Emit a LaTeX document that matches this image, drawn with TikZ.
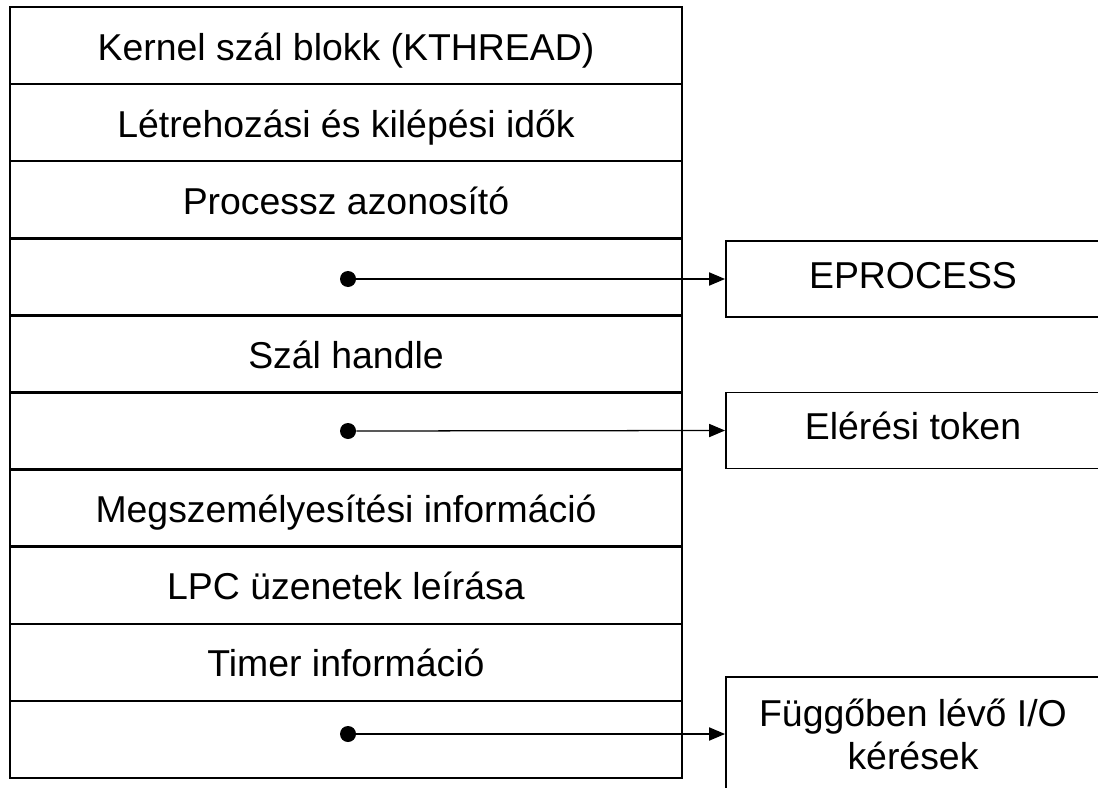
\documentclass[tikz,border=0pt]{standalone}
\usepackage{fontspec}
\setmainfont{Liberation Sans}
\usetikzlibrary{
    positioning,
    arrows.meta
}
\tikzset{
    >={Triangle[length=0.4cm,width=0.33cm]},
    mezo/.style={
        draw,
        line width=1.8pt,
        minimum width=16.8cm,
        minimum height=1.9275cm,
        inner sep=0pt,
        text height=20.6pt,
        text depth=0pt
    },
    cel/.style={
        draw,
        line width=1.3pt,
        minimum width=9.35cm,
        minimum height=1.9cm,
        inner sep=0pt,
        align=center
    },
    pont/.style={
        circle,
        fill,
        inner sep=0pt,
        minimum size=0.4cm
    }
}

\begin{document}
\begin{tikzpicture}[
    x=0.025cm,
    y=-0.025cm,
    font=\fontsize{26.6}{30.6}\selectfont
]
    \useasboundingbox (0,0) rectangle (1098,788);

    % Szál blokk mezői
    \node[mezo] (kt)  at (346,45.55)  {Kernel szál blokk (KTHREAD)};
    \node[mezo] (ido) at (346,122.65) {Létrehozási és kilépési idők};
    \node[mezo] (pid) at (346,199.75) {Processz azonosító};
    \node[mezo] (ep)  at (346,276.85) {};
    \node[mezo] (hnd) at (346,353.95) {Szál handle};
    \node[mezo] (tok) at (346,431.05) {};
    \node[mezo] (imp) at (346,508.15) {Megszemélyesítési információ};
    \node[mezo] (lpc) at (346,585.25) {LPC üzenetek leírása};
    \node[mezo] (tmr) at (346,662.35) {Timer információ};
    \node[mezo] (io)  at (346,739.45) {};

    % Hivatkozott struktúrák
    \node[cel, text height=18pt, text depth=5.2pt]
        (eproc) at (913,279)   {EPROCESS};
    \node[cel, text height=18pt, text depth=5.2pt]
        (token) at (913,430.5) {Elérési token};
    \node[cel, minimum height=2.85cm]
        (ioker) at (913,734)   {Függőben lévő I/O\\kérések};

    % Mutatók
    \node[pont] (p1) at (348,279) {};
    \node[pont] (p2) at (348,431) {};
    \node[pont] (p3) at (348,734) {};

    \draw[->, line width=0.9pt] (p1) -- (eproc.west);
    \draw[->, line width=0.9pt] (p2) -- (token.west);
    \draw[->, line width=0.9pt] (p3) -- (ioker.west);

\end{tikzpicture}
\end{document}
